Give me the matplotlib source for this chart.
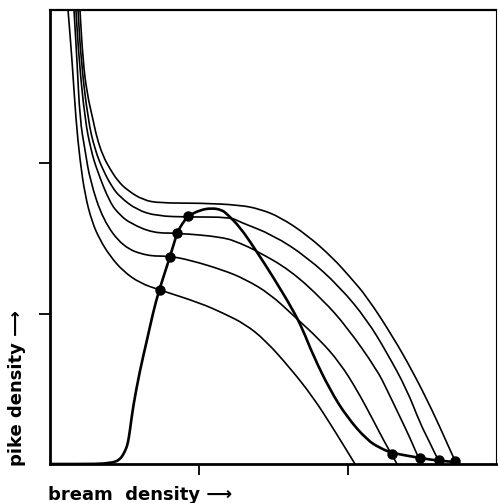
import matplotlib
matplotlib.use("Agg")
import matplotlib.pyplot as plt
from matplotlib.path import Path
from matplotlib.patches import PathPatch

# bream isoclines (pike density needed for zero bream growth), top to bottom
iso1_x = [0.201, 0.221, 0.248, 0.289, 0.315, 0.356, 0.403, 0.456, 0.517, 0.624, 0.738, 1.007,
          1.275, 1.409, 1.544, 1.725, 1.899, 2.013, 2.128, 2.302, 2.436, 2.564, 2.664, 2.718,
          2.732]
iso1_y = [3.017, 2.684, 2.465, 2.286, 2.166, 2.046, 1.960, 1.880, 1.821, 1.754, 1.734, 1.734,
          1.721, 1.694, 1.641, 1.522, 1.369, 1.243, 1.110, 0.844, 0.611, 0.359, 0.140, 0.020,
          0.0]

iso2_x = [0.188, 0.208, 0.255, 0.302, 0.356, 0.416, 0.470, 0.584, 0.718, 0.926, 1.208, 1.275,
          1.497, 1.725, 1.946, 2.128, 2.262, 2.396, 2.483, 2.550, 2.591, 2.624]
iso2_y = [3.017, 2.684, 2.286, 2.086, 1.953, 1.841, 1.774, 1.688, 1.648, 1.641, 1.641, 1.608,
          1.522, 1.375, 1.176, 0.957, 0.738, 0.492, 0.272, 0.140, 0.053, 0.0]

iso3_x = [0.174, 0.195, 0.235, 0.275, 0.315, 0.403, 0.470, 0.537, 0.691, 0.852, 1.161, 1.275,
          1.389, 1.611, 1.832, 1.993, 2.195, 2.262, 2.349, 2.416, 2.470, 2.497]
iso3_y = [3.017, 2.684, 2.286, 2.086, 1.953, 1.734, 1.654, 1.601, 1.535, 1.535, 1.508, 1.468,
          1.415, 1.289, 1.090, 0.910, 0.625, 0.492, 0.312, 0.173, 0.047, 0.0]

iso4_x = [0.161, 0.181, 0.201, 0.235, 0.268, 0.356, 0.490, 0.651, 0.799, 0.940, 1.161, 1.309,
          1.477, 1.644, 1.812, 1.946, 2.060, 2.161, 2.248, 2.329]
iso4_y = [3.017, 2.684, 2.286, 2.086, 1.887, 1.621, 1.442, 1.382, 1.382, 1.355, 1.289, 1.229,
          1.130, 0.977, 0.824, 0.671, 0.492, 0.306, 0.140, 0.0]

iso5_x = [0.121, 0.148, 0.174, 0.201, 0.235, 0.282, 0.336, 0.403, 0.490, 0.604, 0.738, 1.007,
          1.161, 1.309, 1.443, 1.611, 1.765, 1.899, 2.047]
iso5_y = [3.017, 2.684, 2.286, 2.020, 1.787, 1.608, 1.488, 1.382, 1.282, 1.202, 1.156, 1.070,
          1.003, 0.930, 0.824, 0.638, 0.445, 0.239, 0.0]

# pike isocline
pike_x = [0.0, 0.336, 0.389, 0.436, 0.470, 0.490, 0.510, 0.523, 0.537, 0.557, 0.604, 0.651,
          0.691, 0.732, 0.805, 0.852, 0.886, 0.926, 1.007, 1.087, 1.154, 1.188, 1.275, 1.389,
          1.497, 1.631, 1.698, 1.765, 1.879, 1.993, 2.128, 2.215, 2.295, 2.483, 2.617, 2.738]
pike_y = [0.0, 0.0, 0.007, 0.013, 0.033, 0.060, 0.100, 0.140, 0.226, 0.379, 0.625, 0.824,
          1.003, 1.156, 1.375, 1.535, 1.595, 1.648, 1.688, 1.701, 1.688, 1.661, 1.575, 1.409,
          1.243, 1.023, 0.890, 0.724, 0.492, 0.312, 0.159, 0.106, 0.073, 0.040, 0.020, 0.013]

# stable equilibria
eq_x = [0.738, 0.805, 0.852, 0.926, 2.295, 2.483, 2.611, 2.718]
eq_y = [1.156, 1.375, 1.535, 1.648, 0.066, 0.040, 0.027, 0.020]

x_ticks = [1, 2]
y_ticks = [1, 2]


def smooth_path(xs, ys):
    # quadratic bezier through midpoints, the read points act as control points
    pts = list(zip(xs, ys))
    verts = [pts[0], ((pts[0][0] + pts[1][0]) / 2, (pts[0][1] + pts[1][1]) / 2)]
    codes = [Path.MOVETO, Path.LINETO]
    for i in range(1, len(pts) - 1):
        mid = ((pts[i][0] + pts[i + 1][0]) / 2, (pts[i][1] + pts[i + 1][1]) / 2)
        verts += [pts[i], mid]
        codes += [Path.CURVE3, Path.CURVE3]
    verts.append(pts[-1])
    codes.append(Path.LINETO)
    return Path(verts, codes)


fig = plt.figure(figsize=(4.98, 5.03), dpi=100)
ax = fig.add_axes([50 / 498, 39 / 503, 446 / 498, 454 / 503])

for xs, ys in [(iso1_x, iso1_y), (iso2_x, iso2_y), (iso3_x, iso3_y),
               (iso4_x, iso4_y), (iso5_x, iso5_y)]:
    ax.add_patch(PathPatch(smooth_path(xs, ys), facecolor="none",
                           edgecolor="black", linewidth=1.2))

ax.add_patch(PathPatch(smooth_path(pike_x, pike_y), facecolor="none",
                       edgecolor="black", linewidth=1.9, joinstyle="round"))
ax.plot(eq_x, eq_y, "o", color="black", markersize=6.5, zorder=5)

ax.set_xlim(0, 2.993)
ax.set_ylim(0, 3.017)
ax.set_xticks(x_ticks)
ax.set_yticks(y_ticks)
ax.set_xticklabels([])
ax.set_yticklabels([])
ax.tick_params(direction="out", length=8, width=1.3, color="black")

for side in ["left", "bottom"]:
    ax.spines[side].set_linewidth(2.0)
ax.spines["top"].set_linewidth(1.6)
ax.spines["right"].set_linewidth(0.8)

fig.text(48 / 498, 1 - 500 / 503, "bream  density \u27f6", fontsize=13,
         fontweight="bold", ha="left", va="baseline")
fig.text(26 / 498, 1 - 466 / 503, "pike density \u27f6", fontsize=13,
         fontweight="bold", rotation=90, ha="right", va="bottom")

fig.savefig("out.png", dpi=100)
